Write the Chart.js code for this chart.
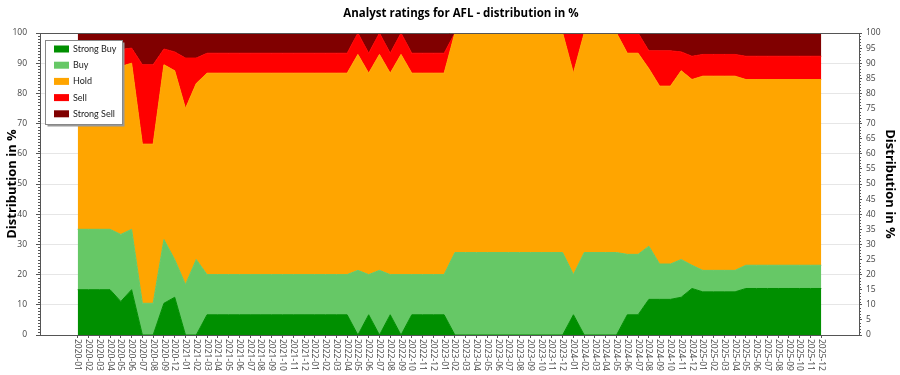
<!DOCTYPE html>
<html>
<head>
<meta charset="utf-8">
<title>Analyst ratings for AFL</title>
<script src="https://cdn.jsdelivr.net/npm/chart.js@4.4.1/dist/chart.umd.min.js"></script>
<style>
  html, body { margin: 0; padding: 0; background: #fff; }
</style>
</head>
<body>
<canvas id="ratingsChart" width="900" height="375"></canvas>
<script>
// months shown on the x axis (2020-10 and 2020-11 are missing in the source)
const months = [
  '2020-01', '2020-02', '2020-03', '2020-04', '2020-05', '2020-06', '2020-07', '2020-08', '2020-09', '2020-12',
  '2021-01', '2021-02', '2021-03', '2021-04', '2021-05', '2021-06', '2021-07', '2021-08', '2021-09', '2021-10', '2021-11', '2021-12',
  '2022-01', '2022-02', '2022-03', '2022-04', '2022-05', '2022-06', '2022-07', '2022-08', '2022-09', '2022-10', '2022-11', '2022-12',
  '2023-01', '2023-02', '2023-03', '2023-04', '2023-05', '2023-06', '2023-07', '2023-08', '2023-09', '2023-10', '2023-11', '2023-12',
  '2024-01', '2024-02', '2024-03', '2024-04', '2024-05', '2024-06', '2024-07', '2024-08', '2024-09', '2024-10', '2024-11', '2024-12',
  '2025-01', '2025-02', '2025-03', '2025-04', '2025-05', '2025-06', '2025-07', '2025-08', '2025-09', '2025-10', '2025-11', '2025-12'
];

// share of each rating in %
const strongBuy = [
  15, 15, 15, 15, 11.1, 15, 0, 0, 10.5, 12.5,
  0, 0, 6.7, 6.7, 6.7, 6.7, 6.7, 6.7, 6.7, 6.7, 6.7, 6.7,
  6.7, 6.7, 6.7, 6.7, 0, 6.7, 0, 6.7, 0, 6.7, 6.7, 6.7,
  6.7, 0, 0, 0, 0, 0, 0, 0, 0, 0, 0, 0,
  6.7, 0, 0, 0, 0, 6.7, 6.7, 11.8, 11.8, 11.8, 12.5, 15.4,
  14.3, 14.3, 14.3, 14.3, 15.4, 15.4, 15.4, 15.4, 15.4, 15.4, 15.4, 15.4
];
const buy = [
  20, 20, 20, 20, 22.2, 20, 10.5, 10.5, 21.1, 12.5,
  16.7, 25, 13.3, 13.3, 13.3, 13.3, 13.3, 13.3, 13.3, 13.3, 13.3, 13.3,
  13.3, 13.3, 13.3, 13.3, 21.4, 13.3, 21.4, 13.3, 20, 13.3, 13.3, 13.3,
  13.3, 27.3, 27.3, 27.3, 27.3, 27.3, 27.3, 27.3, 27.3, 27.3, 27.3, 27.3,
  13.3, 27.3, 27.3, 27.3, 27.3, 20, 20, 17.6, 11.7, 11.7, 12.5, 7.7,
  7.1, 7.1, 7.1, 7.1, 7.7, 7.7, 7.7, 7.7, 7.7, 7.7, 7.7, 7.7
];
const hold = [
  55, 55, 55, 55, 55.6, 55, 52.7, 52.7, 57.9, 62.5,
  58.3, 58.3, 66.7, 66.7, 66.7, 66.7, 66.7, 66.7, 66.7, 66.7, 66.7, 66.7,
  66.7, 66.7, 66.7, 66.7, 71.5, 66.7, 71.5, 66.7, 72.9, 66.7, 66.7, 66.7,
  66.7, 72.7, 72.7, 72.7, 72.7, 72.7, 72.7, 72.7, 72.7, 72.7, 72.7, 72.7,
  66.7, 72.7, 72.7, 72.7, 72.7, 66.6, 66.6, 58.8, 58.9, 58.9, 62.5, 61.5,
  64.3, 64.3, 64.3, 64.3, 61.5, 61.5, 61.5, 61.5, 61.5, 61.5, 61.5, 61.5
];
const sell = [
  5, 5, 5, 5, 5.6, 5, 26.3, 26.3, 5.2, 6.25,
  16.7, 8.4, 6.6, 6.6, 6.6, 6.6, 6.6, 6.6, 6.6, 6.6, 6.6, 6.6,
  6.6, 6.6, 6.6, 6.6, 7.1, 6.6, 7.1, 6.6, 7.1, 6.6, 6.6, 6.6,
  6.6, 0, 0, 0, 0, 0, 0, 0, 0, 0, 0, 0,
  13.3, 0, 0, 0, 0, 6.7, 6.7, 5.9, 11.7, 11.7, 6.25, 7.7,
  7.2, 7.2, 7.2, 7.2, 7.7, 7.7, 7.7, 7.7, 7.7, 7.7, 7.7, 7.7
];
const strongSell = [
  5, 5, 5, 5, 5.5, 5, 10.5, 10.5, 5.3, 6.25,
  8.3, 8.3, 6.7, 6.7, 6.7, 6.7, 6.7, 6.7, 6.7, 6.7, 6.7, 6.7,
  6.7, 6.7, 6.7, 6.7, 0, 6.7, 0, 6.7, 0, 6.7, 6.7, 6.7,
  6.7, 0, 0, 0, 0, 0, 0, 0, 0, 0, 0, 0,
  0, 0, 0, 0, 0, 0, 0, 5.9, 5.9, 5.9, 6.25, 7.7,
  7.1, 7.1, 7.1, 7.1, 7.7, 7.7, 7.7, 7.7, 7.7, 7.7, 7.7, 7.7
];

const seriesNames = ['Strong Buy', 'Buy', 'Hold', 'Sell', 'Strong Sell'];
const seriesColors = ['#008f00', '#66c866', '#ffa500', '#ff0000', '#800000'];
const seriesValues = [strongBuy, buy, hold, sell, strongSell];

const FONT = "'Open Sans', 'Noto Sans', sans-serif";
const AXIS = '#555';

const datasets = seriesValues.map(function (values, k) {
  return {
    label: seriesNames[k],
    data: values.map(function (v, i) { return { x: i, y: v }; }),
    backgroundColor: seriesColors[k],
    borderColor: seriesColors[k],
    borderWidth: 1,
    pointRadius: 0,
    tension: 0,
    fill: k === 0 ? 'origin' : '-1'
  };
});

// title, rotated month labels, minor ticks, top border and the legend box
const decorations = {
  id: 'decorations',
  afterDraw: function (chart) {
    const ctx = chart.ctx;
    const area = chart.chartArea;
    const xs = chart.scales.x;
    const yl = chart.scales.y;
    ctx.save();

    // title
    ctx.fillStyle = '#000';
    ctx.font = 'bold 11.5px ' + FONT;
    ctx.textAlign = 'center';
    ctx.textBaseline = 'middle';
    ctx.fillText('Analyst ratings for AFL - distribution in %', 461, 14);

    // top border
    ctx.strokeStyle = AXIS;
    ctx.lineWidth = 1;
    ctx.beginPath();
    ctx.moveTo(area.left, Math.round(area.top) + 0.5);
    ctx.lineTo(area.right, Math.round(area.top) + 0.5);
    ctx.stroke();

    // minor ticks on both y axes
    ctx.beginPath();
    for (let v = 0; v <= 100; v++) {
      const py = Math.round(yl.getPixelForValue(v)) + 0.5;
      if (v % 10 !== 0) {
        ctx.moveTo(area.left - 2, py);
        ctx.lineTo(area.left, py);
      }
      if (v % 5 !== 0) {
        ctx.moveTo(area.right, py);
        ctx.lineTo(area.right + 2, py);
      }
    }
    ctx.stroke();

    // month labels, reading downwards
    ctx.fillStyle = '#444';
    ctx.font = '8.5px ' + FONT;
    ctx.textAlign = 'left';
    ctx.textBaseline = 'middle';
    months.forEach(function (m, i) {
      const px = xs.getPixelForValue(i);
      ctx.save();
      ctx.translate(px, area.bottom + 4);
      ctx.rotate(Math.PI / 2);
      ctx.fillText(m, 0, 0);
      ctx.restore();
    });

    // legend
    const lx = 45.5, ly = 40.5, lw = 77, lh = 84;
    ctx.fillStyle = '#999';
    ctx.fillRect(lx + 2, ly + 2, lw, lh);
    ctx.fillStyle = '#fff';
    ctx.fillRect(lx, ly, lw, lh);
    ctx.strokeStyle = '#888';
    ctx.strokeRect(lx, ly, lw, lh);
    ctx.font = "9px Lato, 'Open Sans', sans-serif";
    ctx.textBaseline = 'middle';
    seriesNames.forEach(function (name, k) {
      const ry = 49 + k * 16.2;
      ctx.fillStyle = seriesColors[k];
      ctx.fillRect(54, ry - 3.5, 15, 7);
      ctx.fillStyle = '#222';
      ctx.fillText(name, 73, ry);
    });

    ctx.restore();
  }
};

const ctx = document.getElementById('ratingsChart').getContext('2d');
const ratingsChart = new Chart(ctx, {
  type: 'line',
  data: { datasets: datasets },
  options: {
    responsive: false,
    animation: false,
    devicePixelRatio: 1,
    layout: { padding: { top: 33 } },
    plugins: {
      legend: { display: false },
      title: { display: false },
      tooltip: { enabled: false }
    },
    scales: {
      x: {
        type: 'linear',
        min: -3.5,
        max: 72.5,
        afterBuildTicks: function (scale) {
          scale.ticks = months.map(function (m, i) { return { value: i }; });
        },
        afterFit: function (scale) { scale.height = 40; },
        ticks: { display: false },
        grid: { drawOnChartArea: false, tickLength: 3, tickColor: AXIS },
        border: { color: AXIS }
      },
      y: {
        position: 'left',
        stacked: true,
        min: 0,
        max: 100,
        afterFit: function (scale) { scale.width = 40; },
        ticks: { stepSize: 10, padding: 9, color: '#444', font: { family: FONT, size: 8.5 } },
        grid: { color: '#e6e6e6', tickLength: 4, tickColor: AXIS },
        border: { color: AXIS },
        title: {
          display: true,
          text: 'Distribution in %',
          color: '#000',
          padding: { top: 4.5 },
          font: { family: FONT, size: 13, weight: 'bold' }
        }
      },
      y2: {
        position: 'right',
        min: 0,
        max: 100,
        afterFit: function (scale) { scale.width = 41; },
        ticks: { stepSize: 5, padding: 4, color: '#444', font: { family: FONT, size: 8.5 } },
        grid: { drawOnChartArea: false, tickLength: 3, tickColor: AXIS },
        border: { color: AXIS },
        title: {
          display: true,
          text: 'Distribution in %',
          color: '#000',
          padding: { top: 2.2 },
          font: { family: FONT, size: 13, weight: 'bold' }
        }
      }
    }
  },
  plugins: [decorations]
});
</script>
</body>
</html>
